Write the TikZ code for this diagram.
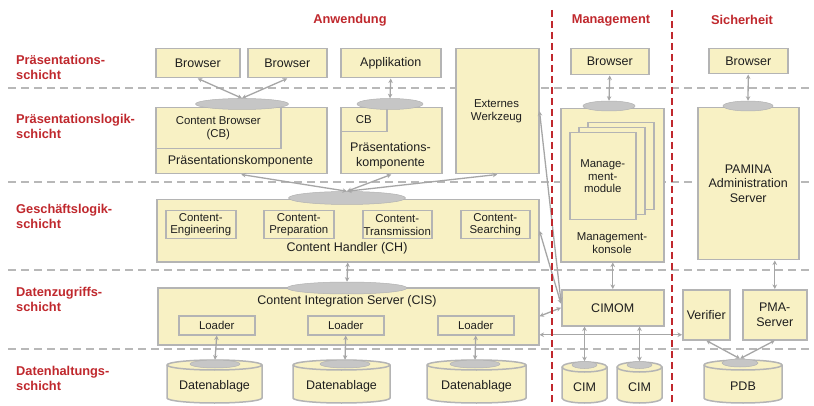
\documentclass[tikz,border=0pt]{standalone}
\usepackage{fontspec}
\setmainfont{Liberation Sans}
\usetikzlibrary{arrows.meta,shapes.geometric,calc}
\definecolor{boxfill}{HTML}{F8F1C4}
\definecolor{boxline}{HTML}{B4B4B4}
\definecolor{ellfill}{HTML}{C6C6C6}
\definecolor{redlab}{HTML}{C0282D}
\definecolor{txtcol}{HTML}{1E1E1E}
\definecolor{conncol}{HTML}{A6A6A6}
\definecolor{sepcol}{HTML}{B8B8B8}
\newcommand\normtext{\fontsize{12.5}{14.5}\selectfont}
\newcommand\smalltext{\fontsize{11.4}{12.8}\selectfont}
\newcommand\labtext{\fontsize{12.8}{15}\selectfont\bfseries}
\tikzset{
  box/.style={draw=boxline, line width=1.5pt, fill=boxfill, anchor=north west,
    inner sep=0pt, text=txtcol, align=center, font=\normtext},
  sbox/.style={box, font=\smalltext},
  txt/.style={text=txtcol, align=center, font=\normtext, inner sep=0pt},
  gell/.style={ellipse, draw=ellfill!90!black, line width=0.5pt, fill=ellfill, inner sep=0pt},
  lab/.style={text=redlab, align=left, anchor=west, font=\labtext, inner sep=0pt},
  head/.style={text=redlab, font=\labtext, inner sep=0pt},
  link/.style={draw=conncol, line width=1.3pt,
    {Stealth[length=4.5pt,width=4.5pt]}-{Stealth[length=4.5pt,width=4.5pt]}},
  sepline/.style={draw=sepcol, line width=1.5pt, dash pattern=on 8pt off 5pt},
  redsep/.style={draw=redlab, line width=2pt, dash pattern=on 7pt off 4pt},
  cylbody/.style={draw=boxline, line width=1.5pt, fill=boxfill},
  cylline/.style={draw=boxline, line width=1.5pt},
}
\newcommand\dbcyl[6]{%
  \path[cylbody] (#2-#4,#3+5) -- (#2-#4,#3+#5-5)
     arc[start angle=180,end angle=360,x radius=#4pt,y radius=5pt]
     -- (#2+#4,#3+5)
     arc[start angle=0,end angle=180,x radius=#4pt,y radius=5pt] -- cycle;
  \draw[cylline] (#2-#4,#3+5) arc[start angle=180,end angle=360,x radius=#4pt,y radius=5pt];
  \node[txt] (#1) at (#2,#3+#5/2+5) {#6};
}
\begin{document}
\begin{tikzpicture}[x=1pt,y=-1pt]
\useasboundingbox[fill=white] (0,0) rectangle (814,406);

% separators
\foreach \yy in {88,182,270,349} \draw[sepline] (8,\yy) -- (814,\yy);

% headers and layer labels
\node[head] (hA) at (350,20) {Anwendung};
\node[head] (hM) at (611,20) {Management};
\node[head] (hS) at (742,20) {Sicherheit};
\node[lab] (l1) at (16,67) {Präsentations-\\schicht};
\node[lab] (l2) at (16,126) {Präsentationslogik-\\schicht};
\node[lab] (l3) at (16,216.5) {Geschäftslogik-\\schicht};
\node[lab] (l4) at (16,299) {Datenzugriffs-\\schicht};
\node[lab] (l5) at (16,378) {Datenhaltungs-\\schicht};

% row 1
\node[box, minimum width=84pt, minimum height=29pt] (b1) at (155,48) {Browser};
\node[box, minimum width=79pt, minimum height=29pt] (b2) at (247,48) {Browser};
\node[box, minimum width=100pt, minimum height=29pt] (app) at (340,48) {Applikation};
\node[box, minimum width=83pt, minimum height=125pt] (ext) at (455,48) {};
\node[sbox, fill=none, draw=none, anchor=center] (extt) at (496.5,111) {Externes\\Werkzeug};
\node[box, minimum width=78pt, minimum height=26pt] (mb) at (570,48) {Browser};
\node[box, minimum width=79pt, minimum height=25pt] (sb) at (708,48) {Browser};

% row 2
\node[box, minimum width=171pt, minimum height=66pt] (pk1) at (155,107) {};
\node[box, minimum width=125pt, minimum height=41pt, font=\smalltext] (cb1) at (155,107) {Content Browser\\(CB)};
\node[txt] (pk1t) at (240.5,161) {Präsentationskomponente};
\node[box, minimum width=101pt, minimum height=66pt] (pk2) at (340,107) {};
\node[box, minimum width=46pt, minimum height=24pt, font=\smalltext] (cb2) at (340,107) {CB};
\node[txt] (pk2t) at (390.5,156) {Präsentations-\\komponente};

% management konsole with stacked modules
\node[box, minimum width=103pt, minimum height=153pt] (mk) at (560,108) {};
\node[box, minimum width=66pt, minimum height=87pt] (pg3) at (587,122) {};
\node[box, minimum width=66pt, minimum height=87pt] (pg2) at (578,127) {};
\node[box, minimum width=66pt, minimum height=87pt, font=\smalltext] (pg1) at (569,132) {Manage-\\ment-\\module};
\node[txt, font=\smalltext] (mkt) at (612,243) {Management-\\konsole};

% PAMINA
\node[box, minimum width=101pt, minimum height=152pt] (pam) at (697,107) {PAMINA\\Administration\\Server};

% content handler
\node[box, minimum width=382pt, minimum height=62pt] (ch) at (156,199) {};
\node[sbox, minimum width=70pt, minimum height=28pt] (ce) at (165,210) {Content-\\Engineering};
\node[sbox, minimum width=70pt, minimum height=28pt] (cp) at (263,210) {Content-\\Preparation};
\node[sbox, minimum width=69pt, minimum height=28pt] (ct) at (362,210) {Content-\\Transmission};
\node[sbox, minimum width=69pt, minimum height=28pt] (cs) at (460,210) {Content-\\Searching};
\node[txt] (cht) at (347,248) {Content Handler (CH)};

% content integration server
\node[box, minimum width=381pt, minimum height=57pt] (cis) at (157,287) {};
\node[txt] (cist) at (347,301) {Content Integration Server (CIS)};
\node[sbox, minimum width=76pt, minimum height=19pt] (ld1) at (178,315) {Loader};
\node[sbox, minimum width=76pt, minimum height=19pt] (ld2) at (307,315) {Loader};
\node[sbox, minimum width=76pt, minimum height=19pt] (ld3) at (437,315) {Loader};

% CIMOM, verifier, PMA server
\node[box, minimum width=102pt, minimum height=36pt] (cimom) at (561,289) {CIMOM};
\node[box, minimum width=47pt, minimum height=50pt] (ver) at (682,289) {Verifier};
\node[box, minimum width=64pt, minimum height=50pt] (pma) at (742,289) {PMA-\\Server};

% databases
\dbcyl{d1}{214.5}{360}{47.5}{43}{Datenablage}
\dbcyl{d2}{341.5}{360}{48.5}{43}{Datenablage}
\dbcyl{d3}{476.5}{360}{49.5}{43}{Datenablage}
\dbcyl{cim1}{584.5}{362}{22.5}{41}{CIM}
\dbcyl{cim2}{639.5}{362}{22.5}{41}{CIM}
\dbcyl{pdb}{743}{360}{39}{43}{PDB}

% connector ellipses
\node[gell, minimum width=93pt, minimum height=11pt] (e1) at (242,104) {};
\node[gell, minimum width=66pt, minimum height=11pt] (e2) at (390,104) {};
\node[gell, minimum width=52pt, minimum height=10pt] (em) at (609,106) {};
\node[gell, minimum width=50pt, minimum height=10pt] (es) at (748,106) {};
\node[gell, minimum width=117pt, minimum height=13pt] (ech) at (347,198) {};
\node[gell, minimum width=120pt, minimum height=12pt] (ecis) at (347,288) {};
\node[gell, minimum width=50pt, minimum height=8pt] (d1t) at (215,364) {};
\node[gell, minimum width=50pt, minimum height=8pt] (d2t) at (345,364) {};
\node[gell, minimum width=50pt, minimum height=8pt] (d3t) at (475,364) {};
\node[gell, minimum width=25pt, minimum height=7pt] (c1t) at (584.5,365) {};
\node[gell, minimum width=25pt, minimum height=7pt] (c2t) at (639.5,365) {};
\node[gell, minimum width=36pt, minimum height=8pt] (pdbt) at (740,363) {};

% connectors
\draw[link] (b1.south) -- (e1.north);
\draw[link] (b2.south) -- (e1.north);
\draw[link] (app.south) -- (e2.north);
\draw[link] (mb.south) -- (em.north);
\draw[link] (sb.south) -- (es.north);
\draw[link] (pk1.south) -- (ech.north);
\draw[link] (pk2.south) -- (ech.north);
\draw[link] (ext.south) -- (ech.north);
\draw[link] (ch.south) -- (ecis.north);
\draw[link] (ld1.south) -- (d1t.north);
\draw[link] (ld2.south) -- (d2t.north);
\draw[link] (ld3.south) -- (d3t.north);
\draw[link] (mk.south -| cimom.north) -- (cimom.north);
\draw[link] (cimom.south -| c1t.north) -- (c1t.north);
\draw[link] (cimom.south -| c2t.north) -- (c2t.north);
\draw[link] (pam.south -| pma.north) -- (pma.north);
\draw[link] (ver.south) -- (pdbt.north);
\draw[link] (pma.south) -- (pdbt.north);
\draw[link] (ext.east) -- ([yshift=6pt]cimom.west);
\draw[link] (ch.east) -- ([yshift=4pt]cimom.west);
\draw[link] (cis.east) -- (cimom.west);
\coordinate (vl) at ([yshift=-20pt]ver.west);
\coordinate (cl) at (vl -| cis.east);
\draw[link] (cl) -- (vl);

% column separators
\draw[redsep] (552,10) -- (552,406);
\draw[redsep] (672,10) -- (672,406);
\end{tikzpicture}
\end{document}
